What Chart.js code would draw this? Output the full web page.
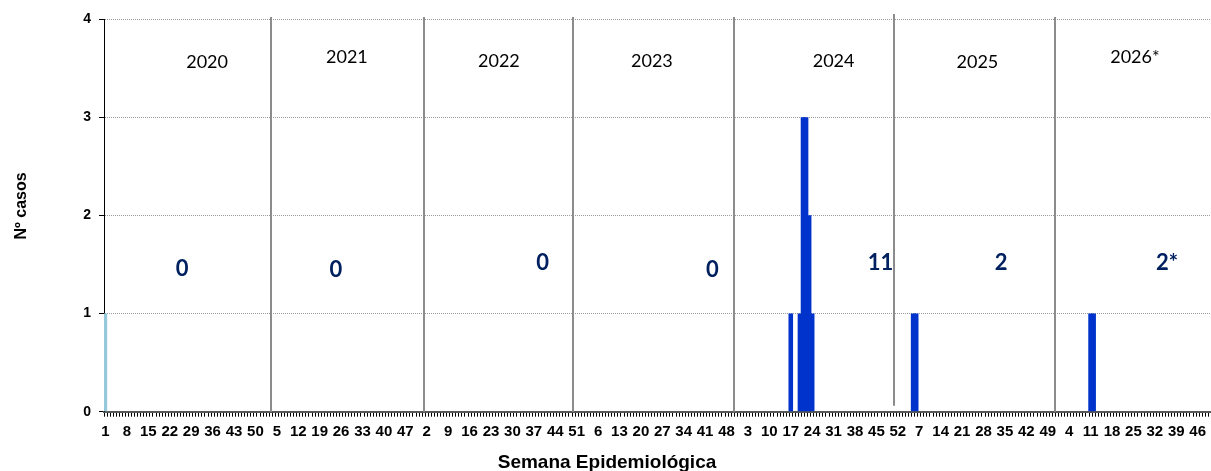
<!DOCTYPE html>
<html>
<head>
<meta charset="utf-8">
<script src="https://cdn.jsdelivr.net/npm/chart.js@4.4.1/dist/chart.umd.min.js"></script>
<style>
  body { margin: 0; overflow: hidden; background: #fff; }
  #box { width: 1222px; height: 471px; }
</style>
</head>
<body>
<div id="box"><canvas id="weekChart"></canvas></div>
<script>
// DATA
const years = ["2020", "2021", "2022", "2023", "2024", "2025", "2026*"]
const weeksPerYear = [52, 52, 52, 52, 52, 52, 52]
const totals = ["0", "0", "0", "0", "11", "2", "2*"]

// [week, cases] per year (dark blue series)
const cases2024 = [[17, 1], [20, 1], [21, 3], [22, 3], [23, 2], [24, 1]]
const cases2025 = [[5, 1], [6, 1]]
const cases2026 = [[11, 1], [12, 1]]
// light blue series
const light2020 = [[1, 1]]

const yTicks = [0, 1, 2, 3, 4]
const xTitle = "Semana Epidemiológica"
const yTitle = "Nº casos"

// where the notes sit (week index from the first week, value on y)
const yearPos = [[33.2, 3.56], [78.9, 3.61], [128.6, 3.57], [178.6, 3.57], [238, 3.57], [285, 3.56], [336.5, 3.61]]
const totalPos = [[25, 1.45], [75.3, 1.44], [142.9, 1.52], [198.4, 1.44], [253.3, 1.52], [292.8, 1.52], [347, 1.52]]
const separators = [54.05, 104, 152.7, 205.3, 257.9, 310.4]

// build categories
const labels = []
const yearStart = []
weeksPerYear.forEach((n, k) => {
    yearStart.push(labels.length)
    for (let w = 1; w <= n; w++) labels.push(String(w))
})

function fill(list) {
    const out = new Array(labels.length).fill(null)
    list.forEach(([yearIdx, pairs]) => {
        pairs.forEach(([w, v]) => { out[yearStart[yearIdx] + w - 1] = v })
    })
    return out
}
const blueData = fill([[4, cases2024], [5, cases2025], [6, cases2026]])
const lightData = fill([[0, light2020]])

const FONT = "'Liberation Sans', Arial, sans-serif"

const overlay = {
    id: "overlay",
    afterDatasetsDraw(chart) {
        const ctx = chart.ctx
        const x = chart.scales.x, y = chart.scales.y
        ctx.save()

        // year separators
        ctx.strokeStyle = "#8c8c8c"
        ctx.lineWidth = 2
        separators.forEach((s, k) => {
            const px = Math.round(x.getPixelForValue(s))
            const top = k == 4 ? y.getPixelForValue(4.05) : y.getPixelForValue(4.02)
            const bottom = k == 4 ? y.getPixelForValue(0.06) : y.getPixelForValue(0)
            ctx.beginPath()
            ctx.moveTo(px, top)
            ctx.lineTo(px, bottom)
            ctx.stroke()
        })

        ctx.textAlign = "center"
        ctx.textBaseline = "middle"

        // year names
        ctx.fillStyle = "#000"
        ctx.font = "18px Lato, 'Open Sans', sans-serif"
        years.forEach((t, k) => {
            ctx.fillText(t, x.getPixelForValue(yearPos[k][0]), y.getPixelForValue(yearPos[k][1]))
        })

        // totals
        ctx.fillStyle = "#002060"
        ctx.font = "bold 22px Lato, 'Open Sans', sans-serif"
        totals.forEach((t, k) => {
            ctx.fillText(t, x.getPixelForValue(totalPos[k][0]), y.getPixelForValue(totalPos[k][1]))
        })

        // axis titles
        ctx.fillStyle = "#000"
        ctx.font = "bold 19px " + FONT
        ctx.textBaseline = "alphabetic"
        ctx.fillText(xTitle, 607, 468)

        ctx.font = "bold 16px " + FONT
        ctx.translate(26, 206)
        ctx.rotate(-Math.PI / 2)
        ctx.fillText(yTitle, 0, 0)
        ctx.restore()
    }
}

new Chart(document.getElementById("weekChart"), {
    type: "bar",
    data: {
        labels: labels,
        datasets: [{
            label: "casos",
            data: blueData,
            backgroundColor: "#0033cc",
            borderWidth: 0,
            grouped: false,
            barPercentage: 1.5,
            categoryPercentage: 1.0
        }, {
            label: "otros",
            data: lightData,
            backgroundColor: "#96c8dc",
            borderWidth: 0,
            grouped: false,
            barPercentage: 1.08,
            categoryPercentage: 1.0
        }]
    },
    options: {
        responsive: true,
        maintainAspectRatio: false,
        animation: false,
        layout: { padding: { top: 19, right: 3.6, left: 0, bottom: 0 } },
        plugins: { legend: { display: false }, tooltip: { enabled: false } },
        scales: {
            x: {
                afterFit: (s) => { s.height = 59.3 },
                grid: { drawOnChartArea: false, tickLength: 5, tickColor: "#000", offset: true },
                border: { color: "#595959", width: 2 },
                ticks: {
                    autoSkip: false,
                    maxRotation: 0,
                    minRotation: 0,
                    padding: 6,
                    color: "#000",
                    font: { family: FONT, size: 15, weight: "bold" },
                    callback: (v, i) => i % 7 == 0 ? labels[i] : ""
                }
            },
            y: {
                min: 0,
                max: 4,
                afterFit: (s) => { s.width = 104 },
                afterBuildTicks: (s) => { s.ticks = yTicks.map(v => ({ value: v })) },
                grid: { color: "#9a9a9a", tickColor: "#000", tickLength: 5, tickBorderDash: [] },
                border: { color: "#000", width: 1, dash: [1, 1] },
                ticks: {
                    padding: 8,
                    color: "#000",
                    font: { family: FONT, size: 14, weight: "bold" }
                }
            }
        }
    },
    plugins: [overlay]
})
</script>
</body>
</html>
